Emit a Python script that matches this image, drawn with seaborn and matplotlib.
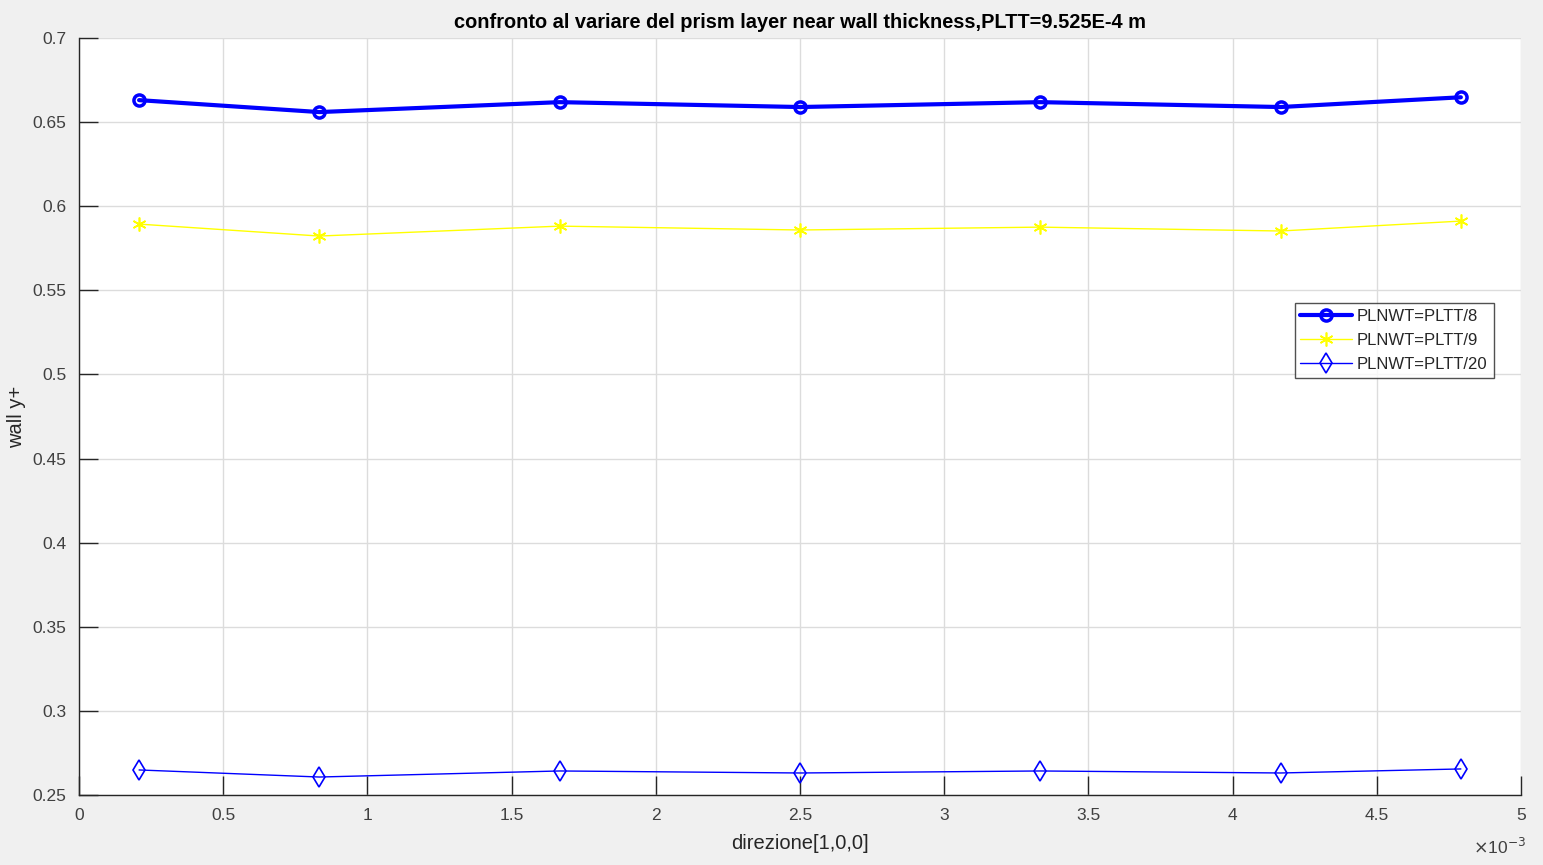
import matplotlib
matplotlib.use("Agg")
import matplotlib.pyplot as plt
import seaborn as sns
import numpy as np
import pandas as pd
from matplotlib.ticker import FuncFormatter, MultipleLocator

# sampling positions along direction [1,0,0] (m)
x_pos = [0.2083e-3, 0.8333e-3, 1.6667e-3, 2.5e-3, 3.3333e-3, 4.1667e-3, 4.7917e-3]

# wall y+ for each prism layer near wall thickness
yplus_8 = [0.6631, 0.6560, 0.6619, 0.6590, 0.6619, 0.6590, 0.6648]
yplus_9 = [0.5894, 0.5823, 0.5882, 0.5859, 0.5876, 0.5853, 0.5912]
yplus_20 = [0.2649, 0.2607, 0.2643, 0.2631, 0.2643, 0.2631, 0.2655]

labels = ["PLNWT=PLTT/8", "PLNWT=PLTT/9", "PLNWT=PLTT/20"]

sns.set_theme(style="white")
plt.rcParams["font.family"] = ["Liberation Sans", "DejaVu Sans"]

fig = plt.figure(figsize=(15.43, 8.65), dpi=100, facecolor="#f0f0f0")
ax = fig.add_axes([0.0512, 0.0809, 0.9345, 0.8751])
ax.set_facecolor("white")

styles = [
    dict(color="#0000ff", lw=3.0, marker="o", ms=8, mew=2.5, mfc="none"),
    dict(color="#ffff00", lw=1.0, marker=(6, 2, 0), ms=10, mew=1.2, mfc="none"),
    dict(color="#0000ff", lw=1.0, marker="d", ms=10, mew=1.2, mfc="none"),
]
for vals, lab, st in zip([yplus_8, yplus_9, yplus_20], labels, styles):
    df = pd.DataFrame({"x": x_pos, "y": vals})
    sns.lineplot(data=df, x="x", y="y", ax=ax, label=lab, sort=False,
                 color=st["color"], linewidth=st["lw"], marker=st["marker"],
                 markersize=st["ms"], markeredgewidth=st["mew"],
                 markerfacecolor=st["mfc"], markeredgecolor=st["color"])

ax.set_xlim(0, 5e-3)
ax.set_ylim(0.25, 0.7)
ax.xaxis.set_major_locator(MultipleLocator(0.5e-3))
ax.yaxis.set_major_locator(MultipleLocator(0.05))
ax.xaxis.set_major_formatter(FuncFormatter(lambda v, p: f"{v*1e3:g}"))
ax.yaxis.set_major_formatter(FuncFormatter(lambda v, p: f"{v:g}"))

ax.grid(True, color="#dcdcdc", linewidth=1.0)
ax.set_axisbelow(True)
for side in ["top", "right"]:
    ax.spines[side].set_visible(False)
for side in ["left", "bottom"]:
    ax.spines[side].set_color("#262626")
    ax.spines[side].set_linewidth(1.0)
ax.tick_params(direction="in", length=14, width=1.0, color="#262626",
               labelsize=12.5, labelcolor="#404040", pad=9,
               bottom=True, left=True)

ax.set_xlabel("direzione[1,0,0]", fontsize=14.5, color="#262626", labelpad=8)
ax.set_ylabel("wall y+", fontsize=14.5, color="#262626")
ax.yaxis.set_label_coords(-0.0365, 0.5)
ax.set_title("confronto al variare del prism layer near wall thickness,PLTT=9.525E-4 m",
             fontsize=14.4, fontweight="bold", color="#000000", pad=7)

fig.text(0.9545, 0.013, "$\\times$10$^{-3}$", fontsize=12.5, color="#404040")

leg = ax.legend(loc="upper right", bbox_to_anchor=(0.981, 0.650), fontsize=12,
                frameon=True, fancybox=False, edgecolor="#262626",
                handlelength=3.1, borderpad=0.35, labelspacing=0.55,
                handletextpad=0.3, borderaxespad=0)
leg.get_frame().set_linewidth(1.0)
for t in leg.get_texts():
    t.set_color("#262626")

fig.savefig("out.png", dpi=100, facecolor=fig.get_facecolor())
